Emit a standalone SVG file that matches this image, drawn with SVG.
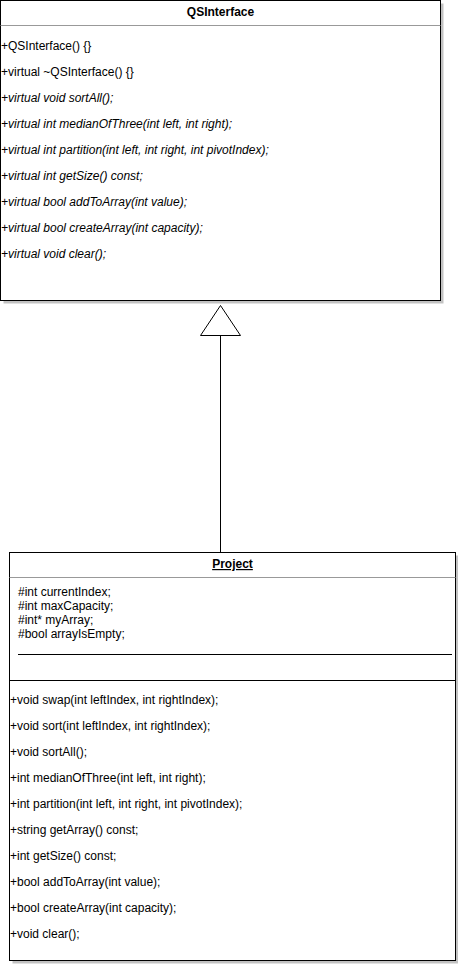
<svg xmlns="http://www.w3.org/2000/svg" width="458" height="964" viewBox="0 0 458 964">
<style>
text{font-family:"Liberation Sans",Arial,sans-serif;font-size:12px;fill:#000}
.t{font-weight:bold;text-anchor:middle}
.i{font-style:italic}
.box{fill:#fff;stroke:#000;stroke-width:1}
.sh{fill:#b3b3b3;opacity:0.8}
.sep{stroke:#999;stroke-width:1}
.ln{stroke:#000;stroke-width:1;fill:none}
</style>
<g id="QSInterface">
<rect class="sh" x="3.5" y="3.5" width="440" height="300"/>
<rect class="box" x="0.5" y="0.5" width="440" height="300"/>
<line class="sep" x1="0.5" y1="25.5" x2="440.5" y2="25.5"/>
<text class="t" x="220.5" y="16">QSInterface</text>
<text x="1" y="50">+QSInterface() {}</text>
<text x="1" y="76">+virtual ~QSInterface() {}</text>
<text class="i" x="1" y="102">+virtual void sortAll();</text>
<text class="i" x="1" y="128">+virtual int medianOfThree(int left, int right);</text>
<text class="i" x="1" y="154">+virtual int partition(int left, int right, int pivotIndex);</text>
<text class="i" x="1" y="180">+virtual int getSize() const;</text>
<text class="i" x="1" y="206">+virtual bool addToArray(int value);</text>
<text class="i" x="1" y="232">+virtual bool createArray(int capacity);</text>
<text class="i" x="1" y="258">+virtual void clear();</text>
</g>
<g id="connectors">
<line class="ln" x1="220.5" y1="335.5" x2="220.5" y2="552.5"/>
<polygon class="ln" points="220.5,305.5 200.5,335.5 240.5,335.5"/>
</g>
<g id="Project">
<rect class="sh" x="12.5" y="555.5" width="446" height="408"/>
<rect class="box" x="9.5" y="552.5" width="446" height="408"/>
<line class="sep" x1="9.5" y1="577.5" x2="455.5" y2="577.5"/>
<text class="t" x="232.5" y="568" text-decoration="underline">Project</text>
<text x="18" y="596">#int currentIndex;</text>
<text x="18" y="610">#int maxCapacity;</text>
<text x="18" y="624">#int* myArray;</text>
<text x="18" y="638">#bool arrayIsEmpty;</text>
<line class="ln" x1="18" y1="654.5" x2="452" y2="654.5"/>
<line class="ln" x1="9.5" y1="680.5" x2="455.5" y2="680.5"/>
<text x="10" y="704">+void swap(int leftIndex, int rightIndex);</text>
<text x="10" y="730">+void sort(int leftIndex, int rightIndex);</text>
<text x="10" y="756">+void sortAll();</text>
<text x="10" y="782">+int medianOfThree(int left, int right);</text>
<text x="10" y="808">+int partition(int left, int right, int pivotIndex);</text>
<text x="10" y="834">+string getArray() const;</text>
<text x="10" y="860">+int getSize() const;</text>
<text x="10" y="886">+bool addToArray(int value);</text>
<text x="10" y="912">+bool createArray(int capacity);</text>
<text x="10" y="938">+void clear();</text>
</g>
</svg>
